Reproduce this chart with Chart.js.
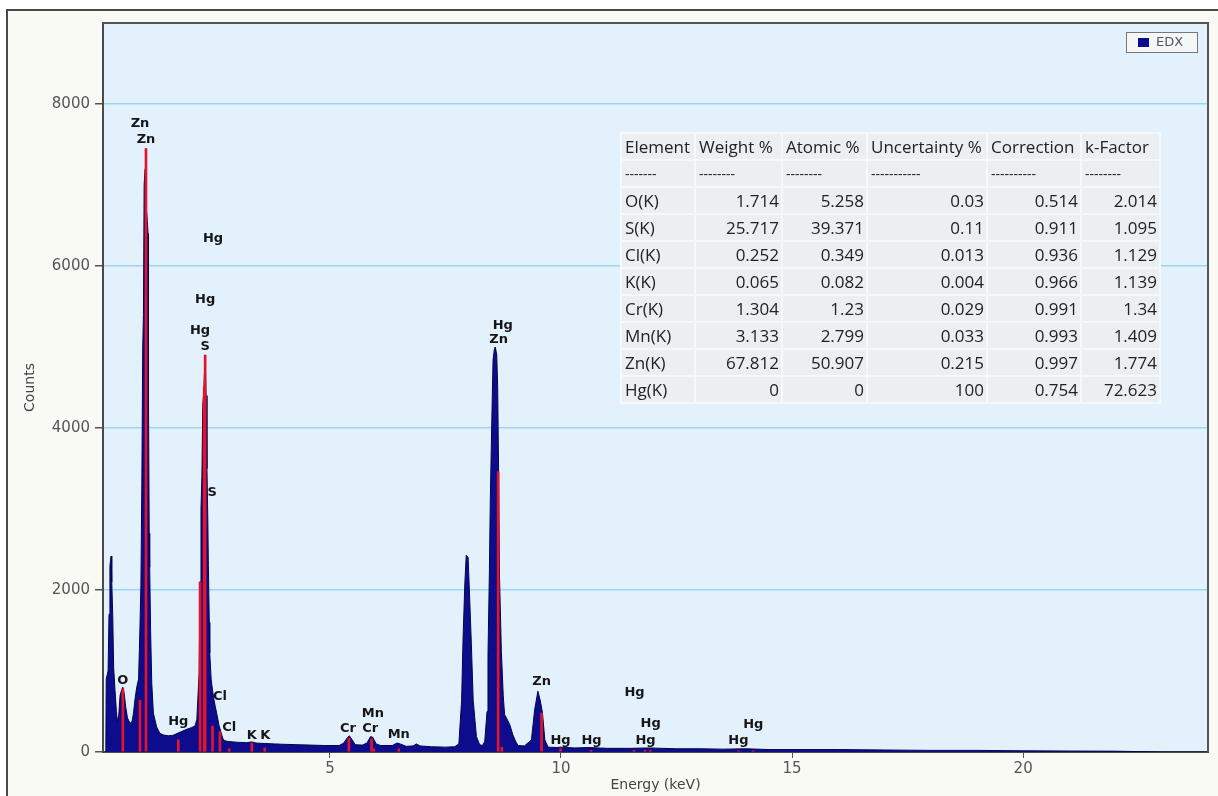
<!DOCTYPE html>
<html>
<head>
<meta charset="utf-8">
<title>EDX</title>
<script src="https://cdn.jsdelivr.net/npm/chart.js@4.4.1/dist/chart.umd.min.js"></script>
<style>
  html, body { margin: 0; padding: 0; background: #ffffff; }
  #wrap { position: relative; width: 1218px; height: 796px; overflow: hidden; }
  #frame { position: absolute; left: 6px; top: 9px; width: 1300px; height: 900px;
           border-left: 2px solid #4a4a4a; border-top: 2px solid #4a4a4a; background: #fafaf4; }
  #chart { position: absolute; left: 0; top: 0; }
  #quant { position: absolute; left: 620px; top: 132px; border-collapse: collapse; table-layout: fixed;
           font-family: "Open Sans", sans-serif; font-size: 17px; color: #222; }
  #quant td { border: 2px solid #f6f9fc; background: #eceff2; height: 25px; line-height: 25px;
              padding: 0 2px 0 3px; white-space: nowrap; overflow: hidden; }
  #quant td.num { text-align: right; }
  #quant tr.dash td { font-size: 14px; }
</style>
</head>
<body>
<div id="wrap">
  <div id="frame"></div>
  <canvas id="chart" width="1218" height="796"></canvas>
  <table id="quant"></table>
</div>
<script>
// spectrum (keV, counts)
const energy = [0.15, 0.16, 0.20, 0.22, 0.24, 0.265, 0.28, 0.30, 0.32, 0.35, 0.38, 0.40, 0.43, 0.46, 0.49, 0.52, 0.55, 0.58, 0.62, 0.66,
  0.69, 0.72, 0.75, 0.78, 0.82, 0.86, 0.89, 0.91, 0.93, 0.95, 0.965, 0.98, 1.00, 1.015, 1.03, 1.05, 1.065, 1.075, 1.09, 1.10,
  1.12, 1.145, 1.18, 1.25, 1.32, 1.40, 1.50, 1.60, 1.70, 1.80, 1.90, 2.00, 2.08, 2.12, 2.17, 2.19, 2.21, 2.23, 2.25, 2.27,
  2.30, 2.32, 2.34, 2.36, 2.37, 2.39, 2.40, 2.43, 2.46, 2.49, 2.52, 2.56, 2.60, 2.64, 2.68, 2.72, 2.80, 2.90, 3.00, 3.20,
  3.31, 3.40, 3.59, 3.80, 4.00, 4.30, 4.60, 4.90, 5.20, 5.30, 5.38, 5.42, 5.48, 5.55, 5.70, 5.80, 5.88, 5.93, 6.00, 6.10,
  6.35, 6.45, 6.52, 6.65, 6.80, 6.87, 6.95, 7.20, 7.50, 7.70, 7.79, 7.85, 7.88, 7.92, 7.95, 7.99, 8.02, 8.06, 8.10, 8.17,
  8.24, 8.30, 8.35, 8.40, 8.42, 8.45, 8.47, 8.50, 8.53, 8.56, 8.58, 8.61, 8.63, 8.65, 8.67, 8.71, 8.75, 8.78, 8.82, 8.89,
  8.96, 9.02, 9.07, 9.21, 9.36, 9.43, 9.50, 9.55, 9.60, 9.65, 9.72, 9.90, 10.0, 10.3, 10.6, 11.0, 11.5, 11.9, 12.5, 13.0,
  13.5, 14.0, 14.5, 15.0, 16.0, 17.0, 18.0, 19.0, 20.0, 21.0, 22.0, 22.5, 23.0, 24.0];
const counts = [0, 900, 1000, 1700, 2300, 2420, 2100, 1700, 1050, 760, 500, 380, 450, 700, 760, 800, 720, 560, 420, 370,
  360, 380, 480, 640, 800, 900, 1550, 2050, 3300, 5000, 5400, 7000, 7200, 7450, 6700, 6550, 6400, 4300, 2700, 2280,
  1500, 850, 480, 310, 230, 210, 200, 205, 230, 255, 280, 300, 320, 400, 975, 2100, 3000, 3400, 4300, 4450,
  4900, 4400, 3500, 2800, 2300, 1600, 1220, 900, 760, 650, 560, 450, 330, 250, 170, 140, 130, 125, 120, 115,
  125, 110, 105, 100, 95, 90, 85, 80, 80, 110, 180, 200, 150, 90, 85, 110, 190, 180, 100, 80,
  80, 110, 100, 70, 75, 100, 75, 65, 60, 65, 100, 640, 1380, 2090, 2430, 2400, 1960, 1340, 640, 190,
  90, 80, 130, 500, 1180, 2200, 3100, 4000, 4840, 4980, 5000, 4900, 4500, 3460, 2160, 1240, 700, 460, 420, 340,
  210, 130, 80, 75, 150, 520, 750, 640, 480, 150, 60, 55, 60, 50, 55, 45, 45, 50, 40, 40,
  35, 40, 30, 30, 30, 25, 20, 20, 15, 12, 10, 5, 0, 0];

// red element marker lines
const lineEnergy = [0.52, 0.89, 1.02, 1.72, 2.19, 2.28, 2.30, 2.46, 2.62, 2.82, 3.31, 3.59, 5.41, 5.90, 5.95, 6.49,
  8.64, 8.72, 9.58, 9.99, 10.65, 11.58, 11.82, 11.93, 13.84, 14.16];
const lineHeight = [780, 640, 7450, 150, 2100, 4500, 4900, 320, 250, 40, 110, 50, 170, 160, 40, 40,
  3460, 60, 480, 40, 20, 20, 20, 20, 15, 15];

// element labels
const labelText = ['O', 'Zn', 'Zn', 'Hg', 'Hg', 'Hg', 'S', 'S', 'Cl', 'Cl', 'Hg', 'K', 'K', 'Cr', 'Mn', 'Cr', 'Mn',
  'Hg', 'Zn', 'Zn', 'Hg', 'Hg', 'Hg', 'Hg', 'Hg', 'Hg', 'Hg'];
const labelEnergy = [0.52, 0.89, 1.02, 2.47, 2.30, 2.19, 2.30, 2.45, 2.62, 2.82, 1.72, 3.31, 3.60, 5.39, 5.93, 5.87, 6.49,
  8.74, 8.65, 9.58, 9.99, 10.66, 11.59, 11.94, 11.83, 14.16, 13.84];
const labelCounts = [880, 7760, 7560, 6340, 5580, 5200, 5010, 3200, 685, 300, 372, 205, 205, 284, 469, 284, 210,
  5270, 5085, 864, 136, 136, 728, 345, 136, 333, 136];

const xTicks = [5, 10, 15, 20];
const yTicks = [0, 2000, 4000, 6000, 8000];

// quantification table
const tableHead = ['Element', 'Weight %', 'Atomic %', 'Uncertainty %', 'Correction', 'k-Factor'];
const tableDash = ['-------', '--------', '--------', '-----------', '----------', '--------'];
const elements = ['O(K)', 'S(K)', 'Cl(K)', 'K(K)', 'Cr(K)', 'Mn(K)', 'Zn(K)', 'Hg(K)'];
const weightPct = [1.714, 25.717, 0.252, 0.065, 1.304, 3.133, 67.812, 0];
const atomicPct = [5.258, 39.371, 0.349, 0.082, 1.23, 2.799, 50.907, 0];
const uncertaintyPct = [0.03, 0.11, 0.013, 0.004, 0.029, 0.033, 0.215, 100];
const correction = [0.514, 0.911, 0.936, 0.966, 0.991, 0.993, 0.997, 0.754];
const kFactor = [2.014, 1.095, 1.129, 1.139, 1.34, 1.409, 1.774, 72.623];

// build the table
const colWidths = [74, 87, 85, 120, 94, 79];
const table = document.getElementById('quant');
let html = '<colgroup>' + colWidths.map(w => '<col style="width:' + w + 'px">').join('') + '</colgroup>';
html += '<tr>' + tableHead.map(t => '<td>' + t + '</td>').join('') + '</tr>';
html += '<tr class="dash">' + tableDash.map(t => '<td>' + t + '</td>').join('') + '</tr>';
elements.forEach((el, i) => {
  const vals = [weightPct[i], atomicPct[i], uncertaintyPct[i], correction[i], kFactor[i]];
  html += '<tr><td>' + el + '</td>' + vals.map(v => '<td class="num">' + v + '</td>').join('') + '</tr>';
});
table.innerHTML = html;

const spectrum = energy.map((e, i) => ({x: e, y: counts[i]}));
const markers = lineEnergy.map((e, i) => ({x: e, y: lineHeight[i]}));

const plotFrame = {
  id: 'plotFrame',
  beforeDraw(chart) {
    const {ctx, chartArea: a} = chart;
    ctx.save();
    ctx.fillStyle = '#e2f1fc';
    ctx.fillRect(a.left, a.top, a.right - a.left, a.bottom - a.top);
    ctx.restore();
  },
  afterDraw(chart) {
    const {ctx, chartArea: a} = chart;
    ctx.save();
    ctx.strokeStyle = '#555';
    ctx.lineWidth = 2;
    ctx.beginPath();
    ctx.moveTo(a.left, a.top);
    ctx.lineTo(a.right, a.top);
    ctx.lineTo(a.right, a.bottom);
    ctx.stroke();
    ctx.restore();
  }
};

const elementLabels = {
  id: 'elementLabels',
  afterDatasetsDraw(chart) {
    const {ctx, scales: {x, y}} = chart;
    ctx.save();
    ctx.font = 'bold 13px "DejaVu Sans"';
    ctx.fillStyle = '#161616';
    ctx.textAlign = 'center';
    ctx.textBaseline = 'middle';
    labelText.forEach((t, i) => {
      ctx.fillText(t, x.getPixelForValue(labelEnergy[i]), y.getPixelForValue(labelCounts[i]));
    });
    ctx.restore();
  }
};

const legendBox = {
  id: 'legendBox',
  afterDraw(chart) {
    const {ctx, chartArea: a} = chart;
    const ds = chart.data.datasets[1];
    const bx = a.right - 82, by = a.top + 9;
    ctx.save();
    ctx.fillStyle = '#f4f6f8';
    ctx.fillRect(bx, by, 71, 20);
    ctx.strokeStyle = '#777';
    ctx.lineWidth = 1;
    ctx.strokeRect(bx + 0.5, by + 0.5, 71, 20);
    ctx.fillStyle = ds.backgroundColor;
    ctx.fillRect(bx + 12, by + 6, 11, 9);
    ctx.fillStyle = '#555';
    ctx.font = '13px "DejaVu Sans"';
    ctx.textBaseline = 'middle';
    ctx.fillText(ds.label, bx + 30, by + 11);
    ctx.restore();
  }
};

const tickFont = {family: 'DejaVu Sans', size: 15};

new Chart(document.getElementById('chart').getContext('2d'), {
  type: 'line',
  data: {
    datasets: [
      {
        type: 'bar',
        label: 'markers',
        data: markers,
        backgroundColor: '#e5122a',
        barThickness: 2,
        order: 0
      },
      {
        label: 'EDX',
        data: spectrum,
        borderColor: '#05054a',
        borderWidth: 1,
        backgroundColor: '#0c0c8c',
        fill: 'origin',
        pointRadius: 0,
        tension: 0,
        order: 1
      }
    ]
  },
  options: {
    responsive: false,
    animation: false,
    layout: {padding: {left: 0, top: 23, right: 10, bottom: 0}},
    plugins: {
      legend: {display: false},
      tooltip: {enabled: false}
    },
    scales: {
      x: {
        type: 'linear',
        min: 0.09,
        max: 24,
        offset: false,
        afterBuildTicks: s => { s.ticks = xTicks.map(v => ({value: v})); },
        afterFit: s => { s.height = 44; },
        grid: {drawOnChartArea: false, drawTicks: true, tickLength: 6, tickColor: '#555', offset: false},
        border: {color: '#4a4a4a', width: 2},
        ticks: {color: '#555', font: tickFont, padding: 2, maxRotation: 0},
        title: {display: true, text: 'Energy (keV)', color: '#444',
                font: {family: 'DejaVu Sans', size: 14}, padding: {top: 0, bottom: 2}}
      },
      y: {
        min: 0,
        max: 9000,
        afterBuildTicks: s => { s.ticks = yTicks.map(v => ({value: v})); },
        afterFit: s => { s.width = 103; },
        grid: {color: '#9dd5ef', lineWidth: 1.5, tickColor: '#555', tickLength: 8},
        border: {color: '#4a4a4a', width: 2},
        ticks: {color: '#555', font: tickFont, padding: 5, callback: v => String(v)},
        title: {display: true, text: 'Counts', color: '#444',
                font: {family: 'DejaVu Sans', size: 14}, padding: {top: 22, bottom: 0}}
      }
    }
  },
  plugins: [plotFrame, elementLabels, legendBox]
});
</script>
</body>
</html>
